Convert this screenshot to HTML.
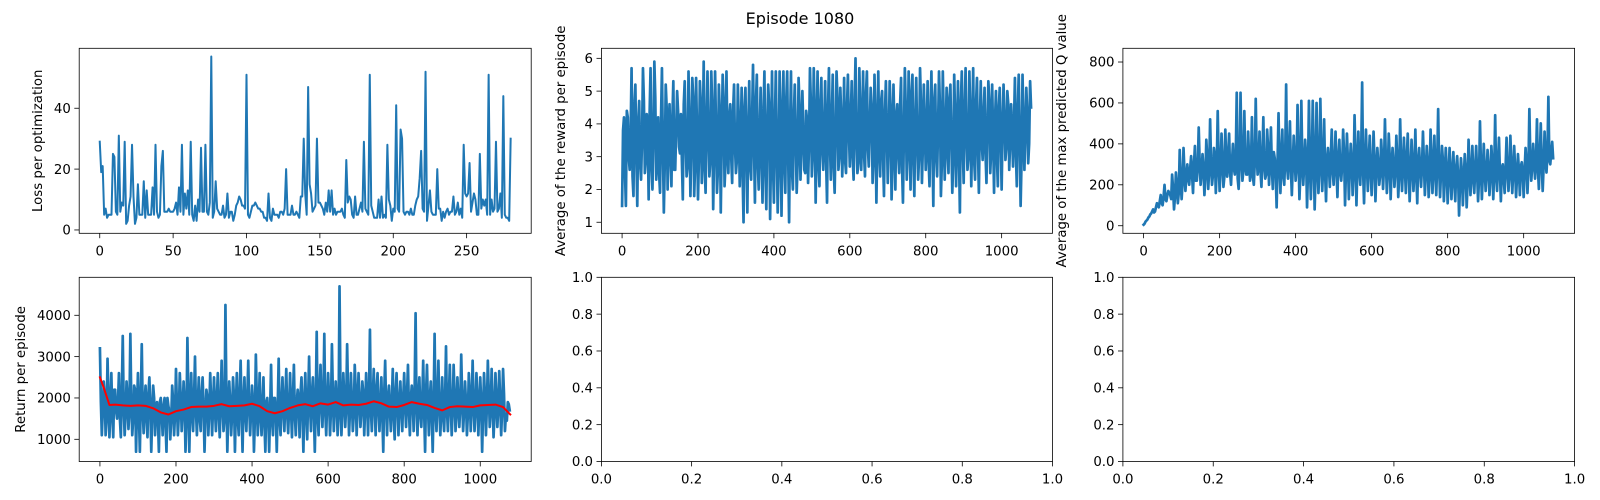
<!DOCTYPE html>
<html><head><meta charset="utf-8">
<style>
html,body{margin:0;padding:0;background:#fff;}
svg{display:block;}
text{font-family:"DejaVu Sans","Liberation Sans",sans-serif;fill:#000;}
</style></head>
<body>
<svg id="fig" width="1600" height="500" viewBox="0 0 1600 500" xmlns="http://www.w3.org/2000/svg">
<rect x="0" y="0" width="1600" height="500" fill="#fff"/>
<text x="800" y="24" text-anchor="middle" font-size="16">Episode 1080</text>
</svg>
<script>
// ---- Loss per optimization (index = optimization step) ----
const lossValues = [29,19,21,5,7,4,5,5,5,25,24,6,5,31,6,
9,8,29,2,3,8,11,28,11,2,4,15,5,5,5,
16,4,13,5,5,5,14,5,28,6,4,5,21,26,6,
6,6,7,6,6,6,7,9,5,14,6,28,5,12,7,
13,5,29,5,3,8,3,10,6,27,6,6,28,6,5,
9,57,4,6,16,7,6,5,5,8,4,5,12,4,6,
6,3,5,8,9,11,10,8,8,7,51,5,4,6,8,
8,9,8,7,7,6,6,4,4,3,12,4,3,7,5,
5,5,4,6,6,5,7,20,5,5,5,8,5,5,6,
5,4,11,11,30,12,5,47,15,12,6,7,8,30,9,
9,8,7,5,9,6,13,6,13,5,7,5,6,6,6,
7,5,4,23,9,11,10,5,4,11,5,5,7,9,6,
29,7,6,5,51,8,6,4,4,4,10,4,11,4,5,
4,28,10,8,3,7,6,41,7,6,33,30,6,5,6,
6,5,7,5,5,8,10,11,17,26,7,6,52,3,8,
13,6,5,5,5,20,7,7,3,6,4,6,7,5,6,
6,11,5,6,9,5,7,4,28,12,11,12,22,6,9,
12,10,5,5,25,7,10,8,10,5,51,5,10,6,7,
29,6,7,12,4,44,5,4,4,3,30];
const lossXTicks = [0,50,100,150,200,250];
const lossYTicks = [0,20,40];

// ---- Average reward per episode: samples at every 5 episodes, plus samples at the half-way episodes ----
const rewardStep = 5;
const rewardValues = [1.5,4.2,1.5,4.2,2.6,5.7,1.8,5.2,1.5,4.7,2.3,5.7,2.5,4.3,1.7,5.7,2.0,5.9,2.3,4.2,
1.9,5.7,1.3,5.2,2.0,4.6,2.1,5.3,2.6,5.0,3.3,4.3,1.7,5.3,2.4,5.6,1.8,5.4,1.8,5.4,
1.7,5.3,2.2,5.9,1.9,5.6,2.4,5.6,1.4,5.6,1.9,5.2,1.3,5.5,2.1,5.6,2.5,4.6,2.2,5.2,
2.5,5.2,2.1,5.1,1.0,5.1,1.3,5.3,2.3,5.8,1.6,5.5,2.0,5.1,1.6,5.6,1.4,5.2,1.1,5.6,
1.6,5.6,1.3,5.6,1.2,5.6,1.9,5.6,1.0,5.6,2.0,5.2,1.9,5.4,2.3,5.0,2.6,4.4,2.2,5.7,
2.4,5.7,1.6,5.6,2.1,5.4,2.6,5.3,1.6,5.7,2.3,5.5,1.9,5.6,2.6,5.1,2.4,5.4,2.5,5.5,
2.7,5.3,2.3,6.0,2.5,5.7,2.6,5.6,2.4,5.6,2.7,5.1,2.2,5.5,1.6,5.6,2.4,5.0,1.8,5.3,
2.2,5.3,1.7,5.2,2.0,4.6,2.5,5.4,1.6,5.7,2.3,5.6,2.0,5.5,1.8,5.4,2.3,5.7,2.2,5.2,
2.6,5.3,2.1,5.6,1.5,5.2,2.4,5.6,1.8,5.6,2.3,5.1,2.5,5.2,1.9,5.5,2.1,5.3,1.3,5.6,
2.2,5.7,2.6,5.6,2.1,5.7,2.3,5.4,1.9,5.3,2.9,5.1,2.2,5.3,2.5,5.2,1.9,5.0,2.1,5.1,
2.0,5.2,2.9,5.0,2.6,4.6,2.7,5.4,2.1,5.5,1.5,5.5,2.6,5.1,2.8,5.3];
const rewardHalfValues = [3.8,2.6,4.4,3.0,3.7,2.4,4.6,3.1,4.0,2.8,3.5,4.7,2.9,3.9,4.3,2.7,3.6,4.8,3.2,2.5,
4.1,3.3,2.8,4.5,3.6,3.0,4.2,2.6,3.8,4.4,3.1,2.9,4.6,3.5,2.7,4.0,3.3,4.8,2.8,3.7,
3.0,4.6,3.4,2.7,4.1,3.8,2.9,4.5,3.2,3.9,2.6,4.3,3.5,4.7,2.8,3.6,4.2,3.0,4.4,3.3,
2.9,4.0,3.6,2.5,4.5,3.1,3.8,2.7,4.2,3.4,4.6,2.8,3.7,3.0,4.3,2.6,3.9,4.5,3.2,2.8,
4.0,3.3,2.7,4.4,3.5,2.9,4.7,3.1,3.8,2.6,4.2,3.6,2.8,4.5,3.3,3.9,2.5,4.1,3.4,4.6,
3.1,4.3,3.7,2.8,4.6,3.2,3.9,2.9,4.4,3.5,4.1,2.7,3.6,4.8,3.0,4.2,3.4,2.9,4.5,3.8,
4.2,3.0,4.6,3.5,2.8,4.4,3.7,3.1,4.9,3.3,3.9,4.5,2.9,4.1,3.6,3.2,4.7,3.0,4.3,3.8,
3.4,4.5,2.8,3.9,4.2,3.1,4.6,2.7,3.7,4.4,3.2,3.8,4.9,2.9,4.1,3.5,3.0,4.6,3.3,4.0,
3.7,2.9,4.3,3.4,4.7,3.0,3.9,4.5,2.8,4.1,3.6,3.2,4.8,3.5,2.9,4.2,3.8,3.1,4.6,3.3,
4.4,3.6,3.0,4.2,3.8,2.9,4.6,3.3,4.0,3.5,4.3,3.1,3.9,4.7,3.2,3.7,4.1,3.0,4.5,3.6,
3.9,4.2,3.3,4.6,3.5,3.8,4.0,3.1,4.4,3.6,2.9,4.1,3.7,4.3,3.4,4.5];
const rewardXTicks = [0,200,400,600,800,1000];
const rewardYTicks = [1,2,3,4,5,6];

// ---- Average max predicted Q value ----
const qStep = 5;
const qValues = [5,20,30,45,60,80,70,110,90,150,100,200,120,170,150,250,80,260,110,370,
130,380,170,300,200,340,160,390,220,480,200,350,150,420,180,520,200,380,160,560,
170,450,190,470,240,450,200,400,250,650,180,650,220,560,250,460,220,530,200,620,
250,460,190,530,230,470,200,480,180,330,90,550,160,470,200,690,230,510,150,440,
220,590,130,610,200,420,90,610,130,610,80,600,160,620,170,520,120,380,190,470,
200,460,140,420,220,470,100,450,130,400,150,540,100,460,200,700,110,470,170,440,
150,460,120,380,200,420,180,520,160,450,130,380,190,440,140,520,170,430,160,450,
120,420,170,470,110,380,190,460,150,390,140,470,160,440,150,570,140,390,120,380,
110,380,130,360,120,340,50,330,100,350,90,420,150,390,160,390,120,510,130,400,
170,370,150,390,130,540,170,430,120,300,160,430,170,440,160,390,140,350,150,310,
140,380,160,570,220,400,230,520,180,500,170,460,260,630,300,410];
const qHalfValues = [10,25,40,55,70,65,90,100,120,110,140,130,150,160,130,180,140,200,160,220,
210,260,240,230,280,250,300,220,290,310,260,280,240,330,270,300,250,340,290,310,
280,320,240,300,350,260,310,280,340,230,300,360,270,320,250,330,290,240,310,350,
300,270,340,290,250,380,310,280,360,260,320,300,350,240,330,290,370,280,300,330,
290,350,260,320,300,340,270,310,290,360,250,330,280,350,300,260,320,290,340,270,
310,280,330,260,300,350,270,320,290,310,260,340,300,280,360,270,310,290,330,260,
280,320,270,300,250,330,290,310,260,340,280,300,270,320,250,310,290,280,330,270,
260,300,280,250,320,270,290,310,260,300,240,330,280,270,310,290,260,320,240,280,
230,270,250,220,280,240,200,260,230,270,210,290,250,240,280,260,230,300,250,270,
260,280,240,300,270,250,310,260,280,230,290,270,250,300,260,280,240,270,290,260,
270,300,280,330,290,310,320,280,340,300,290,330,350,320,360,330];
const qXTicks = [0,200,400,600,800,1000];
const qYTicks = [0,200,400,600,800];

// ---- Return per episode + moving average ----
const returnStep = 5;
const returnValues = [3200,1100,2400,1100,2950,1050,2600,1050,2200,1500,2600,1050,3500,1100,2400,1250,3550,1100,2300,700,
2600,700,3300,1150,2300,1050,2500,700,2300,1100,1900,700,2000,1100,2000,700,1800,1000,2300,1100,
2700,1100,2600,1200,2400,700,3450,700,2600,1200,3000,1100,2500,1200,2500,700,2200,1100,2600,1100,
2500,1200,2600,1050,2900,1200,4250,700,2400,1100,2500,700,2600,1100,2900,700,2500,1200,2900,1100,
2300,700,3050,1100,2600,1100,2500,700,2000,700,2800,1100,2000,700,2950,1100,2500,1200,2700,1150,
2600,1050,2800,1100,2200,1050,2500,700,2600,1000,3000,1200,2500,700,3600,1100,2800,1300,3550,1100,
2600,1100,3300,1200,2400,1100,4700,1100,2600,1300,3300,1100,2600,1200,2800,1100,2600,1300,2400,1100,
2600,1100,3650,1200,2700,1100,2600,1200,2500,700,2900,1100,2300,1200,2700,1000,2600,1100,2400,1200,
2600,1300,2800,1100,2300,1200,4050,1100,2500,1300,2900,700,2800,1100,2400,700,3550,1200,2900,1100,
2500,1200,3250,1200,2800,1100,2800,1200,2500,1300,3050,1200,2400,1100,2600,1200,2900,1200,2600,1100,
2500,700,2600,1100,2900,1300,2700,1050,2600,1300,2650,1100,2700,1200,1450,1850];
const returnHalfValues = [1900,1700,2100,1500,2000,1800,1600,2200,1700,1900,1500,2100,1800,1600,2000,1700,1900,1500,2200,1800,
1600,2000,1700,1900,1500,2100,1800,1600,2000,1700,1500,1900,1600,1800,1400,2000,1700,1500,1900,1600,
1800,1600,2000,1700,1900,1500,2100,1800,1600,2000,1700,1900,1500,2100,1800,1600,2000,1700,1900,1800,
1700,2000,1600,1900,1800,1500,2100,1700,1900,1600,2000,1800,1500,2100,1700,1900,1600,2000,1800,1700,
1900,1500,2000,1700,1600,1800,1400,1900,1600,1700,1500,2000,1600,1800,1500,1900,1700,2000,1600,1800,
1700,2000,1600,1900,1800,2100,1700,1900,1600,2000,1800,2100,1700,1900,1600,2200,1800,2000,1700,1900,
2000,1700,2100,1800,1900,1600,2200,1700,2000,1800,2100,1700,1900,1600,2200,1800,2000,1700,2100,1800,
1900,2100,1700,2000,1800,2200,1700,1900,1600,2100,1800,2000,1700,1900,1600,2100,1800,1900,1700,2000,
1800,2100,1700,2000,1900,2200,1800,2000,1600,1900,1700,2100,1800,2000,1600,1900,1700,2000,1800,1700,
1600,1900,1700,2000,1800,1700,2100,1600,1900,1800,2000,1700,1900,1600,2100,1800,1900,1700,2000,1800,
1900,1700,2000,1800,2100,1700,1900,1600,2000,1800,1900,1700,2100,1600,1900,1700];
const maEpisodes = [0,10,25,40,60,80,100,120,140,160,180,200,220,240,260,280,300,320,340,360,380,400,420,440,460,480,500,520,540,560,580,600,620,640,660,680,700,720,740,760,780,800,820,840,860,880,900,920,940,960,980,1000,1020,1040,1060,1079];
const maValues = [2500,2250,1830,1840,1820,1810,1820,1810,1750,1650,1600,1680,1720,1780,1790,1790,1810,1850,1800,1810,1820,1860,1800,1680,1630,1680,1760,1820,1850,1800,1870,1840,1900,1820,1840,1830,1860,1920,1870,1790,1780,1830,1900,1860,1830,1760,1700,1780,1800,1790,1780,1820,1830,1840,1780,1600];
const returnXTicks = [0,200,400,600,800,1000];
const returnYTicks = [1000,2000,3000,4000];

// ---- Empty axes ----
const emptyTicks = [0.0,0.2,0.4,0.6,0.8,1.0];

const NS = "http://www.w3.org/2000/svg";
const fig = document.getElementById('fig');
const BLUE = "#1f77b4";
const FS = 13.3;

function mk(tag, attrs, parent){
  const e = document.createElementNS(NS, tag);
  for (const k in attrs) e.setAttribute(k, attrs[k]);
  (parent||fig).appendChild(e);
  return e;
}

function makeAxes(name, box, xdom, ydom, xticks, yticks, fmtX, fmtY){
  const g = mk('g', {});
  
  
  const sx = v => box.l + (v - xdom[0]) / (xdom[1] - xdom[0]) * (box.r - box.l);
  const sy = v => box.b - (v - ydom[0]) / (ydom[1] - ydom[0]) * (box.b - box.t);
  const plot = mk('g', {}, g);
  
  
  const xa = mk('g', {}, g);
  
  
  xticks.forEach(v => {
    const x = sx(v);
    const t = mk('line', {x1:x, x2:x, y1:box.b, y2:box.b+4.9, stroke:'#000', 'stroke-width':0.8}, xa);
    
    
    const lb = mk('text', {x:x, y:box.b+22, 'text-anchor':'middle', 'font-size':FS}, xa);
    
    
    lb.textContent = fmtX(v);
  });
  const ya = mk('g', {}, g);
  
  
  yticks.forEach(v => {
    const y = sy(v);
    const t = mk('line', {x1:box.l-4.9, x2:box.l, y1:y, y2:y, stroke:'#000', 'stroke-width':0.8}, ya);
    
    
    const lb = mk('text', {x:box.l-8.4, y:y+4.7, 'text-anchor':'end', 'font-size':FS}, ya);
    
    
    lb.textContent = fmtY(v);
  });
  const frame = mk('rect', {x:box.l, y:box.t, width:box.r-box.l, height:box.b-box.t, fill:'none', stroke:'#000', 'stroke-width':0.8}, g);
  
  
  return {g, plot, sx, sy, box};
}

function drawLine(ax, xs, ys, color, name, width){
  const d = xs.map((x,i) => (i ? 'L' : 'M') + ax.sx(x).toFixed(2) + ' ' + ax.sy(ys[i]).toFixed(2)).join(' ');
  const p = mk('path', {d:d, fill:'none', stroke:color, 'stroke-width':width||2, 'stroke-linejoin':'round', 'stroke-linecap':'square'}, ax.plot);
  
  
}

// merge regular samples with half-step samples into one time-ordered series
function merged(main, half, step){
  const xs = [], ys = [];
  main.forEach((v, i) => {
    xs.push(i * step); ys.push(v);
    if (i < half.length) { xs.push(i * step + step / 2); ys.push(half[i]); }
  });
  return {xs, ys};
}

function yLabel(text, x, cy, name){
  const t = mk('text', {x:x, y:cy, 'text-anchor':'middle', 'font-size':FS, transform:'rotate(-90 '+x+' '+cy+')'});
  
  
  t.textContent = text;
}

const idx = (arr, step) => arr.map((_, i) => i * step);
const intFmt = v => String(v);
const dec1 = v => v.toFixed(1);

const topBox1 = {l:79.2, r:531.2, t:48.3, b:233.3};
const topBox2 = {l:601.4, r:1052.5, t:48.3, b:233.3};
const topBox3 = {l:1122.9, r:1574.6, t:48.3, b:233.3};
const botBox1 = {l:79.2, r:531.2, t:277.3, b:461.5};
const botBox2 = {l:601.4, r:1052.5, t:277.3, b:461.5};
const botBox3 = {l:1122.9, r:1574.6, t:277.3, b:461.5};
const epDom = [-54.5, 1134];
const DENSE = 2.7;

const ax1 = makeAxes('loss-chart', topBox1, [-14, 294], [-1.1, 59.7], lossXTicks, lossYTicks, intFmt, intFmt);
drawLine(ax1, idx(lossValues, 1), lossValues, BLUE, 'loss-line', 2);
yLabel('Loss per optimization', 42, (topBox1.t+topBox1.b)/2, 'loss-y-axis-title');

const ax2 = makeAxes('reward-chart', topBox2, epDom, [0.663, 6.306], rewardXTicks, rewardYTicks, intFmt, intFmt);
const rw = merged(rewardValues, rewardHalfValues, rewardStep);
drawLine(ax2, rw.xs, rw.ys, BLUE, 'reward-line', DENSE);
yLabel('Average of the reward per episode', 565, (topBox2.t+topBox2.b)/2, 'reward-y-axis-title');

const ax3 = makeAxes('q-value-chart', topBox3, epDom, [-37, 867], qXTicks, qYTicks, intFmt, intFmt);
const qm = merged(qValues, qHalfValues, qStep);
drawLine(ax3, qm.xs, qm.ys, BLUE, 'q-value-line', DENSE);
yLabel('Average of the max predicted Q value', 1066, (topBox3.t+topBox3.b)/2, 'q-value-y-axis-title');

const ax4 = makeAxes('return-chart', botBox1, epDom, [463, 4919], returnXTicks, returnYTicks, intFmt, intFmt);
const rt = merged(returnValues, returnHalfValues, returnStep);
drawLine(ax4, rt.xs, rt.ys, BLUE, 'return-line', DENSE);
drawLine(ax4, maEpisodes, maValues, 'red', 'return-moving-average-line', 2);
yLabel('Return per episode', 25, (botBox1.t+botBox1.b)/2, 'return-y-axis-title');

makeAxes('empty-chart-middle', botBox2, [0,1], [0,1], emptyTicks, emptyTicks, dec1, dec1);
makeAxes('empty-chart-right', botBox3, [0,1], [0,1], emptyTicks, emptyTicks, dec1, dec1);
</script>
</body></html>
